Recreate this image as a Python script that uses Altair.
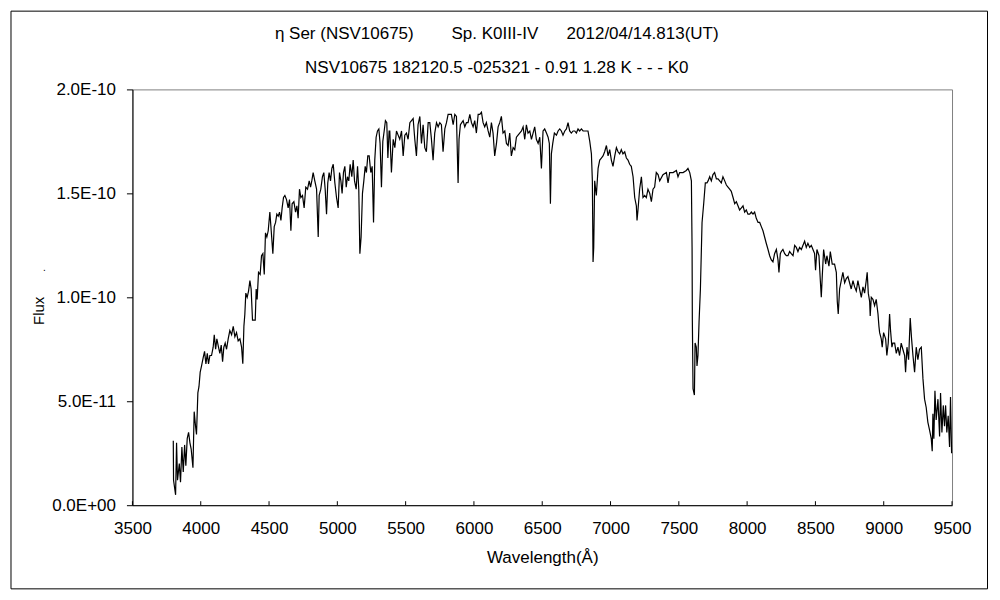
import altair as alt
import pandas as pd

# ---- data (flux in units of 1e-10) ----
wl_blue = [3799,3801,3816,3823,3830,3843,3852,3862,3872,3882,
3891,3901,3911,3921,3930,3943,3952,3962,3969,3979,
3987,3996,4006,4018,4028,4038,4048,4057,4067,4079,
4091,4099,4109,4118,4130,4140,4150,4160,4169,4179,
4189,4201,4213,4226,4238,4250,4262,4274,4287,4299,
4308,4316,4323,4330,4340,4350,4360,4369,4379,4399,
4406,4413,4423,4435,4445,4455,4465,4474,4484,4494,
4506,4516,4528,4538,4548,4557,4567,4577,4587,4596,
4606,4616,4628,4640,4650,4660,4669,4682,4694,4704,
4713,4723,4733,4745,4757,4769,4782,4794,4804,4813,
4823,4835,4848,4860,4867,4879,4891,4901,4911,4921,
4930,4940,4950,4960,4970,4982,4994,5006,5016,5026,
5035,5045,5055,5065,5074,5084,5094,5106,5116,5126,
5138,5148,5157,5165,5174,5184,5194,5204,5213,5223,
5233,5245,5255,5265,5274,5284,5294,5304,5313,5323,
5333,5343,5352,5362,5370,5379]
flux_blue = [0.31,0.12,0.05,0.30,0.12,0.20,0.11,0.28,0.16,0.29,
0.19,0.32,0.35,0.30,0.27,0.18,0.45,0.38,0.34,0.54,
0.57,0.64,0.67,0.71,0.74,0.68,0.73,0.68,0.72,0.72,
0.76,0.82,0.75,0.80,0.76,0.73,0.77,0.69,0.76,0.78,
0.75,0.80,0.84,0.82,0.86,0.81,0.83,0.79,0.80,0.76,
0.68,0.86,0.92,1.02,1.00,1.03,1.08,1.04,0.89,0.89,
1.04,0.99,1.12,1.11,1.20,1.21,1.11,1.31,1.29,1.32,
1.41,1.32,1.21,1.34,1.36,1.40,1.39,1.41,1.37,1.43,
1.48,1.49,1.47,1.43,1.47,1.32,1.45,1.46,1.41,1.44,
1.38,1.52,1.48,1.49,1.43,1.53,1.52,1.56,1.53,1.56,
1.60,1.56,1.52,1.29,1.49,1.52,1.58,1.60,1.52,1.40,
1.55,1.60,1.56,1.62,1.64,1.55,1.48,1.43,1.60,1.56,
1.50,1.60,1.63,1.53,1.58,1.56,1.64,1.58,1.66,1.56,
1.52,1.63,1.52,1.21,1.29,1.50,1.56,1.63,1.60,1.68,
1.68,1.60,1.63,1.36,1.66,1.77,1.80,1.81,1.74,1.53,
1.75,1.80,1.85,1.84,1.67,1.80]

wl_mid = [5384,5396,5409,5421,5433,5445,5457,5470,5482,5494,
5506,5518,5531,5543,5555,5567,5579,5591,5604,5616,
5628,5640,5652,5665,5677,5689,5701,5713,5726,5738,
5750,5762,5774,5787,5799,5811,5823,5835,5848,5860,
5872,5884,5891,5901,5911,5921,5933,5945,5957,5970,
5982,5994,6006,6018,6031,6043,6055,6067,6079,6091,
6104,6116,6128,6140,6152,6165,6177,6189,6201,6213,
6226,6238,6250,6262,6274,6287,6299,6311,6323,6335,
6348,6360,6372,6384,6396,6409,6421,6433,6445,6457,
6470,6482,6494,6506,6518,6531,6543,6552,6560,6567,
6577,6589,6604,6616,6628,6640,6652,6665,6677,6689,
6701,6713,6726,6738,6750,6762,6774,6787,6799,6811,
6823,6835,6848,6860,6867,6872,6877,6884,6896,6909,
6921,6933,6945,6957,6970,6982,6994,7006,7018,7031,
7043,7055,7067,7079,7091,7104,7116,7128,7140,7152,
7165,7177,7189,7194,7201,7213,7226,7238,7250,7262,
7274,7287,7299,7311,7323,7335,7348,7360]
flux_mid = [1.80,1.60,1.76,1.72,1.80,1.78,1.76,1.80,1.68,1.78,
1.79,1.76,1.84,1.85,1.86,1.76,1.68,1.83,1.87,1.74,
1.83,1.72,1.70,1.84,1.84,1.76,1.66,1.79,1.84,1.82,
1.84,1.83,1.70,1.81,1.84,1.88,1.88,1.88,1.83,1.88,
1.87,1.55,1.76,1.83,1.84,1.85,1.82,1.84,1.84,1.88,
1.84,1.82,1.85,1.79,1.88,1.88,1.89,1.84,1.82,1.84,
1.80,1.77,1.84,1.79,1.68,1.74,1.82,1.84,1.87,1.79,
1.80,1.74,1.73,1.79,1.68,1.72,1.71,1.77,1.78,1.79,
1.80,1.82,1.76,1.83,1.79,1.80,1.76,1.79,1.82,1.76,
1.74,1.77,1.62,1.80,1.81,1.79,1.77,1.74,1.45,1.69,
1.74,1.79,1.78,1.80,1.81,1.80,1.78,1.80,1.81,1.84,
1.80,1.79,1.80,1.80,1.79,1.81,1.80,1.81,1.80,1.80,
1.80,1.80,1.75,1.69,1.56,1.17,1.24,1.56,1.49,1.62,
1.66,1.67,1.68,1.70,1.73,1.68,1.71,1.66,1.63,1.68,
1.72,1.70,1.69,1.71,1.69,1.70,1.67,1.66,1.64,1.63,
1.58,1.48,1.44,1.37,1.42,1.52,1.58,1.48,1.49,1.48,
1.52,1.50,1.46,1.52,1.53,1.60,1.59,1.56]

wl_red = [7384,7409,7421,7433,7458,7482,7494,7506,7531,7555,
7567,7580,7592,7597,7599,7604,7614,7619,7628,7633,
7640,7648,7658,7670,7682,7694,7706,7714,7726,7738,
7750,7762,7775,7787,7799,7811,7823,7836,7848,7860,
7872,7884,7897,7909,7921,7933,7945,7958,7970,7982,
7994,8006,8019,8031,8043,8055,8067,8080,8092,8104,
8116,8128,8140,8153,8165,8177,8189,8201,8214,8226,
8233,8243,8250,8262,8275,8287,8299,8311,8323,8336,
8348,8360,8372,8384,8397,8409,8421,8433,8445,8458,
8470,8482,8494,8501,8511,8526,8536,8543,8550,8560,
8575,8584,8599,8609,8623,8640,8653,8660,8667,8677,
8689,8701,8714,8726,8738,8750,8762,8775,8787,8799,
8811,8823,8836,8848,8860,8872,8879,8887,8897,8901,
8909,8921,8933,8945,8958,8965,8970,8982,8989,8999,
9014,9023,9033,9043,9050,9060,9067,9080,9092,9104,
9116,9128,9140,9153,9160,9170,9182,9194,9204,9214,
9226,9238,9250,9262,9275,9287,9299,9311,9323,9336,
9348,9355,9360,9367,9375,9384,9397,9409,9416,9426,
9436,9445,9453,9462,9472,9482,9489,9497]
flux_red = [1.59,1.60,1.55,1.60,1.60,1.61,1.58,1.60,1.60,1.61,
1.62,1.60,1.56,1.24,0.89,0.56,0.53,0.78,0.76,0.67,
0.72,0.88,1.04,1.36,1.45,1.55,1.55,1.56,1.58,1.56,
1.59,1.60,1.57,1.57,1.56,1.55,1.58,1.56,1.54,1.53,
1.52,1.51,1.48,1.45,1.46,1.44,1.42,1.43,1.44,1.41,
1.42,1.40,1.40,1.41,1.40,1.41,1.38,1.36,1.36,1.34,
1.32,1.29,1.26,1.23,1.20,1.18,1.17,1.21,1.23,1.18,
1.12,1.21,1.22,1.23,1.21,1.20,1.20,1.22,1.21,1.20,
1.25,1.24,1.22,1.24,1.23,1.25,1.27,1.24,1.26,1.24,
1.25,1.23,1.21,1.13,1.23,1.20,1.08,1.00,1.10,1.23,
1.16,1.20,1.15,1.22,1.16,1.16,1.12,0.98,0.92,1.04,
1.08,1.12,1.07,1.09,1.10,1.07,1.04,1.08,1.05,1.03,
1.08,1.04,1.00,1.05,1.02,1.08,1.12,1.02,0.98,0.91,
1.00,0.99,0.96,0.99,0.92,0.86,0.83,0.80,0.76,0.83,
0.80,0.72,0.78,0.92,0.84,0.76,0.78,0.78,0.73,0.76,
0.72,0.78,0.75,0.72,0.64,0.76,0.70,0.90,0.80,0.72,
0.64,0.76,0.70,0.75,0.76,0.61,0.51,0.47,0.40,0.36,
0.32,0.26,0.44,0.32,0.55,0.41,0.51,0.33,0.54,0.35,
0.48,0.38,0.48,0.35,0.43,0.28,0.52,0.25]

x_ticks = [3500, 4000, 4500, 5000, 5500, 6000, 6500, 7000, 7500, 8000, 8500, 9000, 9500]
y_ticks = [0.0, 0.5e-10, 1.0e-10, 1.5e-10, 2.0e-10]
NB = "\u00a0"
title_line1 = "η Ser (NSV10675)" + NB * 8 + "Sp. K0III-IV" + NB * 6 + "2012/04/14.813(UT)"
title_line2 = "NSV10675 182120.5 -025321 - 0.91 1.28 K - - - K0"

wl_all = wl_blue + wl_mid + wl_red
flux_all = [v * 1e-10 for v in (flux_blue + flux_mid + flux_red)]
df = pd.DataFrame({"wl": wl_all, "flux": flux_all})

W, H = 820, 416
FONT = "Liberation Sans"
FS = 17

x_scale = alt.Scale(domain=[3500, 9500], nice=False, zero=False)
y_scale = alt.Scale(domain=[0, 2e-10], nice=False)

line = alt.Chart(df).mark_line(color="black", strokeWidth=1.2).encode(
    x=alt.X("wl:Q", scale=x_scale,
            axis=alt.Axis(values=x_ticks, format="d", tickSize=0, labelPadding=15,
                          labelFlush=False, labelOverlap=False,
                          title="Wavelength(Å)", titleY=52, titleBaseline="middle",
                          grid=False)),
    y=alt.Y("flux:Q", scale=y_scale,
            axis=alt.Axis(values=y_ticks, tickSize=6, labelPadding=11,
                          labelFlush=False, labelOverlap=False,
                          labelExpr="datum.value == 0 ? '0.0E+00' : upper(format(datum.value, '.1e'))",
                          title="Flux", titleX=-94, titleY=221, titleAngle=270,
                          titleBaseline="middle", titleFontSize=15, grid=False)),
)

tick_df = pd.DataFrame({"t": x_ticks})
xticks = alt.Chart(tick_df).mark_rule(color="black", strokeWidth=1).encode(
    x=alt.X("t:Q", scale=x_scale), y=alt.value(H), y2=alt.value(H - 4)
)

one = pd.DataFrame({"a": [0]})
frame = alt.Chart(one).mark_rect(filled=False, color="black", strokeWidth=1).encode(
    x=alt.value(-121.5), x2=alt.value(855.5), y=alt.value(-78.3), y2=alt.value(499.7)
)

t1 = alt.Chart(pd.DataFrame({"s": [title_line1]})).mark_text(
    font=FONT, fontSize=FS, baseline="middle", align="center", color="black"
).encode(text="s:N", x=alt.value(364.5), y=alt.value(-55.8))
t2 = alt.Chart(pd.DataFrame({"s": [title_line2]})).mark_text(
    font=FONT, fontSize=FS, baseline="middle", align="center", color="black"
).encode(text="s:N", x=alt.value(364.5), y=alt.value(-21.8))
dot = alt.Chart(pd.DataFrame({"s": ["."]})).mark_text(
    font=FONT, fontSize=10, baseline="middle", align="center", color="black"
).encode(text="s:N", x=alt.value(-88.2), y=alt.value(179))

chart = alt.layer(frame, line, xticks, t1, t2, dot).properties(
    width=W, height=H, autosize="none",
    padding={"left": 124.5, "top": 81.3, "right": 40, "bottom": 90},
    background="white",
).configure_view(stroke="#808080", strokeWidth=1).configure_axis(
    domainColor="black", domainWidth=1, tickColor="black", labelColor="black",
    labelFont=FONT, labelFontSize=FS, titleFont=FONT, titleFontSize=FS,
    titleFontWeight="normal", titleColor="black",
)

chart.save("out.html", embed_options={"renderer": "svg", "actions": False})
